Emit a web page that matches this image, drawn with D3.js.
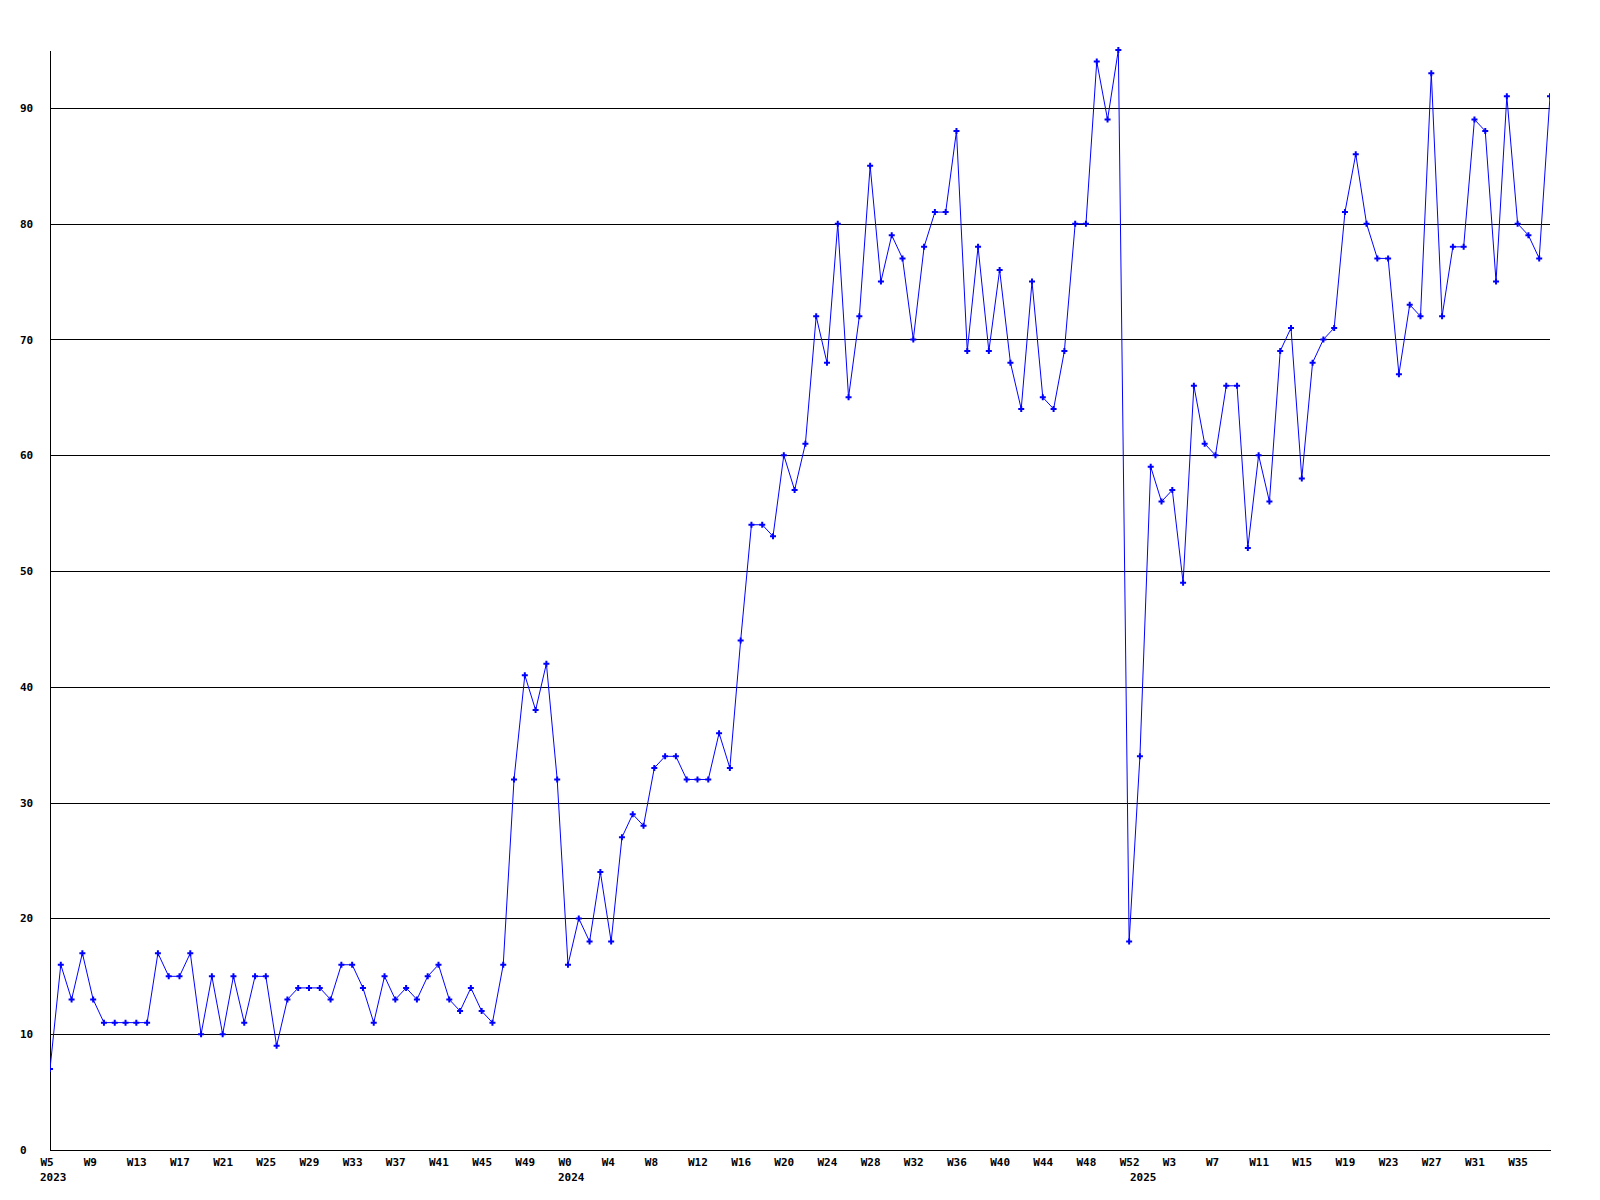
<!DOCTYPE html>
<html>
<head>
<meta charset="utf-8">
<script src="https://cdn.jsdelivr.net/npm/d3@7"></script>
<style>
  body { margin: 0; background: #fff; }
  text { font-family: "DejaVu Sans Mono", monospace; font-weight: bold; font-size: 11px; fill: #000; }
</style>
</head>
<body>
<div id="chart"></div>
<script>
// weekly values, 2023 W5 .. 2025 W38
let values = [
  7, 16, 13, 17, 13, 11, 11, 11, 11, 11, 17, 15, 15, 17, 10, 15, 10, 15, 11, 15,
  15, 9, 13, 14, 14, 14, 13, 16, 16, 14, 11, 15, 13, 14, 13, 15, 16, 13, 12, 14,
  12, 11, 16, 32, 41, 38, 42, 32, 16, 20, 18, 24, 18, 27, 29, 28, 33, 34, 34, 32,
  32, 32, 36, 33, 44, 54, 54, 53, 60, 57, 61, 72, 68, 80, 65, 72, 85, 75, 79, 77,
  70, 78, 81, 81, 88, 69, 78, 69, 76, 68, 64, 75, 65, 64, 69, 80, 80, 94, 89, 95,
  18, 34, 59, 56, 57, 49, 66, 61, 60, 66, 66, 52, 60, 56, 69, 71, 58, 68, 70, 71,
  81, 86, 80, 77, 77, 67, 73, 72, 93, 72, 78, 78, 89, 88, 75, 91, 80, 79, 77, 91
];

// one label every 4 weeks, starting at the first point
let tickLabels = [
  "W5", "W9", "W13", "W17", "W21", "W25", "W29", "W33", "W37", "W41", "W45", "W49",
  "W0", "W4", "W8", "W12", "W16", "W20", "W24", "W28", "W32", "W36", "W40", "W44", "W48", "W52",
  "W3", "W7", "W11", "W15", "W19", "W23", "W27", "W31", "W35"
];

// index of the first week of each year
let years = ["2023", "2024", "2025"];
let yearStart = [0, 48, 101];

let yTicks = [0, 10, 20, 30, 40, 50, 60, 70, 80, 90];

let margin = {top: 50, right: 50, bottom: 50, left: 50},
    width = 1600 - margin.left - margin.right,
    height = 1200 - margin.top - margin.bottom;

let svg = d3.select("#chart")
    .append("svg")
        .attr("width", 1600)
        .attr("height", 1200)
    .append("g")
        .attr("transform", "translate(" + margin.left + "," + margin.top + ")");

let x = d3.scaleLinear()
    .domain([0, values.length - 1])
    .range([0, width]);

let y = d3.scaleLinear()
    .domain([0, 95])
    .range([height, 0]);

// horizontal grid lines
svg.append("g")
    .selectAll("line")
    .data(yTicks.filter(d => d > 0))
    .enter()
    .append("line")
        .attr("x1", 0)
        .attr("x2", width)
        .attr("y1", d => Math.round(y(d)) + 0.5)
        .attr("y2", d => Math.round(y(d)) + 0.5)
        .attr("stroke", "#000")
        .attr("shape-rendering", "crispEdges");

// Y axis, labels left aligned at x=20
let yAxis = svg.append("g")
    .call(d3.axisLeft(y).tickValues(yTicks).tickSize(0).tickSizeOuter(0));
yAxis.select(".domain").attr("stroke", "#000").attr("shape-rendering", "crispEdges");
yAxis.selectAll("text")
    .attr("x", 20 - margin.left)
    .attr("text-anchor", "start");
yAxis.attr("font-family", null).attr("font-size", null);

// X axis
let xAxis = svg.append("g")
    .attr("transform", "translate(0," + height + ")")
    .call(d3.axisBottom(x)
        .tickValues(tickLabels.map((d, i) => i * 4))
        .tickFormat((d, i) => tickLabels[i])
        .tickSize(0).tickSizeOuter(0));
xAxis.select(".domain").attr("stroke", "#000").attr("shape-rendering", "crispEdges");
xAxis.selectAll("text")
    .attr("x", -10)
    .attr("y", 16)
    .attr("dy", null)
    .attr("text-anchor", "start");
xAxis.attr("font-family", null).attr("font-size", null);

// year labels under the first week of each year
svg.append("g")
    .selectAll("text")
    .data(years)
    .enter()
    .append("text")
        .attr("x", (d, i) => x(yearStart[i]) - 10)
        .attr("y", height + 31)
        .text(d => d);

// line
svg.append("clipPath").attr("id", "plot")
    .append("rect").attr("width", width).attr("height", height + 10).attr("y", -10);

svg.append("path")
    .datum(values)
    .attr("clip-path", "url(#plot)")
    .attr("fill", "none")
    .attr("stroke", "#0000ff")
    .attr("stroke-width", 1)
    .attr("d", d3.line()
        .x((d, i) => x(i))
        .y(d => y(d)));

// markers
svg.append("g")
    .attr("clip-path", "url(#plot)")
    .selectAll("path")
    .data(values)
    .enter()
    .append("path")
        .attr("transform", (d, i) => "translate(" + x(i) + "," + y(d) + ")")
        .attr("d", d3.symbol(d3.symbolCross, 20))
        .attr("fill", "#0000ff");
</script>
</body>
</html>
